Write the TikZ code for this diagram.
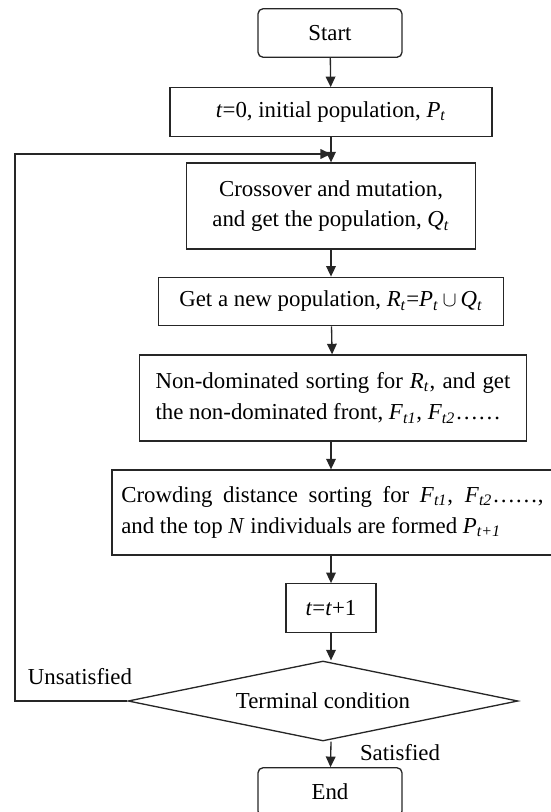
\documentclass[tikz,border=0pt]{standalone}
\usepackage{fontspec}
\setmainfont{Liberation Serif}
\usetikzlibrary{shapes.geometric,arrows.meta}
\newcommand{\vsub}[2]{\textit{#1}\textsubscript{\textit{#2}}}
\begin{document}
\begin{tikzpicture}[x=0.02cm, y=-0.02cm,
            font=\fontsize{13}{17.6}\selectfont,
            box/.style={rectangle, draw=black!85, line width=0.75pt, minimum height=0.97cm, inner xsep=0.15cm},
            terminal/.style={box, rounded corners=0.1cm, minimum width=2.88cm},
            cond/.style={diamond, aspect=4.9, draw=black!85, line width=0.75pt, minimum width=7.8cm, minimum height=1.6cm, inner sep=0pt},
            lbl/.style={inner sep=0pt},
            arr/.style={-{Triangle[length=6pt,width=5.5pt]}, line width=0.75pt, draw=black!85}
        ]
        \useasboundingbox (0,0) rectangle (551,812);

        \node[terminal] (start) at (330,33) {Start};
        \node[box, minimum width=6.44cm] (init) at (331,112) {\textit{t}=0, initial population, \vsub{P}{t}};
        \node[box, minimum width=5.78cm, minimum height=1.72cm, align=center] (cross) at (331,206) {Crossover and mutation,\\ and get the population, \vsub{Q}{t}};
        \node[box, minimum width=6.9cm] (merge) at (331,301.5) {Get a new population, \vsub{R}{t}=\vsub{P}{t}\,$\cup$\,\vsub{Q}{t}};
        \node[box, minimum width=7.73cm, minimum height=1.72cm, text width=7.1cm, align=justify] (sort) at (333,398) {Non-dominated sorting for \vsub{R}{t}, and get\linebreak the non-dominated front, \vsub{F}{t1}, \vsub{F}{t2}……};
        \node[box, minimum width=8.82cm, minimum height=1.7cm, text width=8.45cm, align=justify] (crowd) at (332.5,512.5) {Crowding distance sorting for \vsub{F}{t1}, \vsub{F}{t2}……,\linebreak and the top \textit{N} individuals are formed \vsub{P}{t+1}};
        \node[box, minimum width=1.8cm] (inc) at (331,608) {\textit{t}=\textit{t}+1};
        \node[cond] (check) at (323,701) {Terminal condition};
        \node[terminal] (finish) at (330,792) {End};

        \coordinate (back) at (15,154);
        \coordinate (join) at (331,154);

        \draw[arr] (start) -- (init);
        \draw[arr] (init) -- (cross);
        \draw[arr] (cross) -- (merge);
        \draw[arr] (merge) -- (sort);
        \draw[arr] (sort.south -| merge.south) -- (crowd.north -| merge.south);
        \draw[arr] (crowd.south -| merge.south) -- (inc);
        \draw[arr] (inc.south) -- (inc.south |- check.north);
        \draw[arr] (inc.south |- check.south) -- (finish);
        \draw[arr] (check.west) -| (back) -- (join);

        \node[lbl] (unsat) at (80,677) {Unsatisfied};
        \node[lbl] (sat) at (400,753) {Satisfied};
    \end{tikzpicture}
\end{document}
